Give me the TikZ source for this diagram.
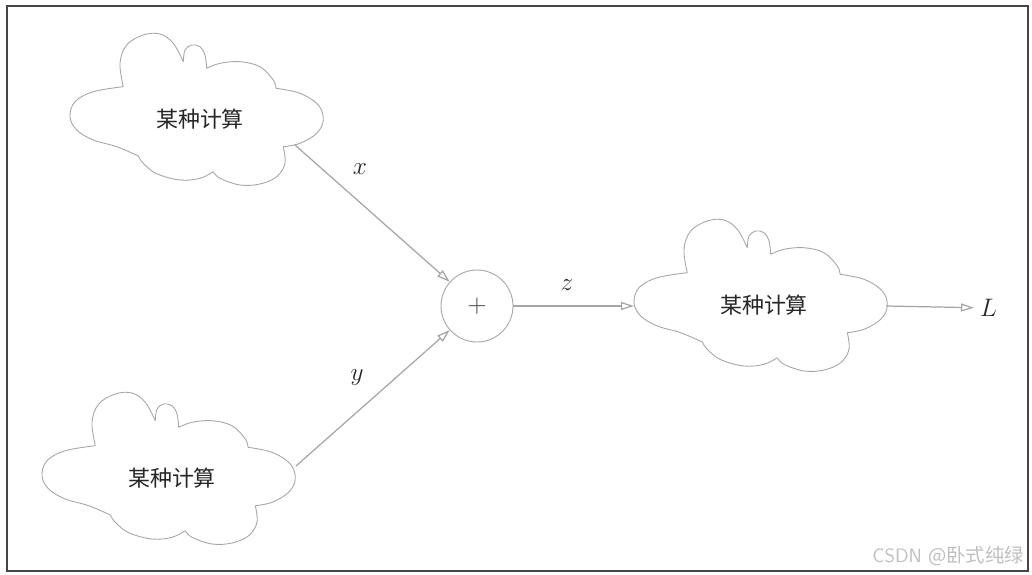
\documentclass[tikz,border=0pt]{standalone}
\usepackage{fontspec}
\newfontfamily\cjk{Noto Sans CJK SC}
\usetikzlibrary{arrows.meta}
\definecolor{linegray}{RGB}{165,165,165}
\definecolor{framegray}{RGB}{70,70,70}
\tikzset{
  px/.style={x=0.02cm,y=-0.02cm},
  calc/.style={inner sep=0pt, font=\cjk\fontsize{12.5}{14}\selectfont, text=black!85},
  cloudline/.pic={
    \draw[linegray, line width=0.5pt]
      plot[smooth, tension=0.6] coordinates {(-76.7,-32.3) (-106.7,-27.3) (-125,-17.3) (-130,-2.3) (-123.3,11) (-106.7,21) (-83.3,27.7) (-61.7,37)}
      plot[smooth, tension=0.6] coordinates {(-61.7,37) (-56.7,44.3) (-43.3,54.7) (-20,61) (0,59.3) (13.3,52.7)}
      plot[smooth, tension=0.6] coordinates {(13.3,52.7) (20,59.3) (40,66) (60,65) (76.7,57.7) (85,44.3) (83.3,27.7)}
      plot[smooth, tension=0.6] coordinates {(83.3,27.7) (100,24.3) (116.7,14.3) (123.3,1) (118.3,-14) (100,-25.7) (76,-30.7)}
      plot[smooth, tension=0.6] coordinates {(76,-30.7) (73.3,-39) (60,-52.3) (40,-57.3) (20,-55.7) (6.7,-50.7)}
      plot[smooth, tension=0.6] coordinates {(6.7,-50.7) (5,-64) (0,-72.3) (-8.3,-74) (-15,-69) (-16.7,-57.3)}
      plot[smooth, tension=0.6] coordinates {(-16.7,-57.3) (-26.7,-75.7) (-40,-85) (-56.7,-84) (-73.3,-74) (-80,-55.7) (-76.7,-32.3)};
  },
  conn/.style={draw=linegray, line width=0.7pt, -{Triangle[open,length=0.26cm,width=0.16cm]}},
  lbl/.style={font=\fontsize{15}{17}\selectfont, text=black!85},
  sumnode/.style={circle, draw=linegray, line width=0.5pt, minimum size=1.44cm, inner sep=0pt,
    font=\fontsize{15}{17}\selectfont, text=black!75}
}
\begin{document}
\begin{tikzpicture}[px]
\useasboundingbox (0,0) rectangle (1032,575);
\draw[framegray, line width=0.9pt] (7,6) rectangle (1028,571);
\node[calc] (c1) at (200,119) {某种计算};
\node[calc] (c2) at (172,478) {某种计算};
\node[calc] (c3) at (764,305) {某种计算};
\pic at (c1.center) {cloudline};
\pic at (c2.center) {cloudline};
\pic at (c3.center) {cloudline};
\node[sumnode] (plus) at (477,306) {$+$};
\node[lbl, anchor=west] (L) at (974,308) {$L$};
\node[lbl] (lx) at (360,169) {$x$};
\node[lbl] (ly) at (357,378) {$y$};
\node[lbl] (lz) at (567,285) {$z$};
\draw[conn] ([shift={(95,26)}]c1.center) -- (plus);
\draw[conn] ([shift={(124,-12)}]c2.center) -- (plus);
\draw[conn] (plus) -- ([shift={(-130,1)}]c3.center);
\draw[conn] ([shift={(122,1)}]c3.center) -- (L);
\node[font=\fontsize{11}{13}\selectfont\sffamily, text=black!25, anchor=east] (wm) at (1030,556) {CSDN {\cjk @卧式纯绿}};
\end{tikzpicture}
\end{document}
